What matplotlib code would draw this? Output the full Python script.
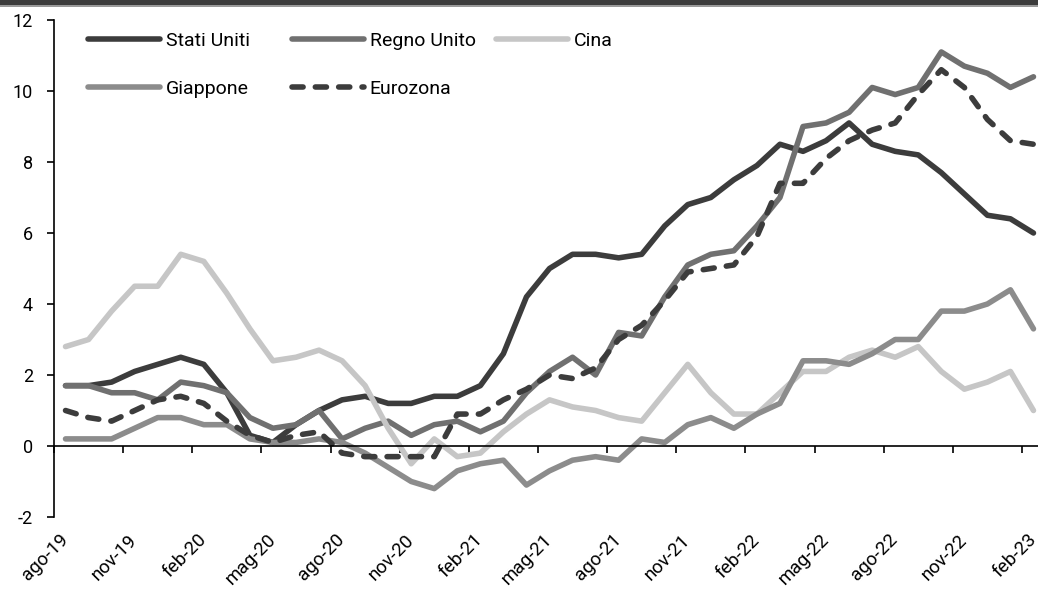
import numpy as np
import matplotlib.pyplot as plt
from matplotlib.patches import Rectangle
from matplotlib.transforms import ScaledTranslation

plt.rcParams['font.family'] = ['Roboto', 'DejaVu Sans']
plt.rcParams['axes.unicode_minus'] = False

mesi = ['ago-19', 'set-19', 'ott-19', 'nov-19', 'dic-19',
        'gen-20', 'feb-20', 'mar-20', 'apr-20', 'mag-20', 'giu-20', 'lug-20',
        'ago-20', 'set-20', 'ott-20', 'nov-20', 'dic-20',
        'gen-21', 'feb-21', 'mar-21', 'apr-21', 'mag-21', 'giu-21', 'lug-21',
        'ago-21', 'set-21', 'ott-21', 'nov-21', 'dic-21',
        'gen-22', 'feb-22', 'mar-22', 'apr-22', 'mag-22', 'giu-22', 'lug-22',
        'ago-22', 'set-22', 'ott-22', 'nov-22', 'dic-22',
        'gen-23', 'feb-23']

stati_uniti = [1.7, 1.7, 1.8, 2.1, 2.3, 2.5, 2.3, 1.5, 0.3, 0.1, 0.6, 1.0,
               1.3, 1.4, 1.2, 1.2, 1.4, 1.4, 1.7, 2.6, 4.2, 5.0, 5.4, 5.4,
               5.3, 5.4, 6.2, 6.8, 7.0, 7.5, 7.9, 8.5, 8.3, 8.6, 9.1, 8.5,
               8.3, 8.2, 7.7, 7.1, 6.5, 6.4, 6.0]
regno_unito = [1.7, 1.7, 1.5, 1.5, 1.3, 1.8, 1.7, 1.5, 0.8, 0.5, 0.6, 1.0,
               0.2, 0.5, 0.7, 0.3, 0.6, 0.7, 0.4, 0.7, 1.5, 2.1, 2.5, 2.0,
               3.2, 3.1, 4.2, 5.1, 5.4, 5.5, 6.2, 7.0, 9.0, 9.1, 9.4, 10.1,
               9.9, 10.1, 11.1, 10.7, 10.5, 10.1, 10.4]
cina = [2.8, 3.0, 3.8, 4.5, 4.5, 5.4, 5.2, 4.3, 3.3, 2.4, 2.5, 2.7,
        2.4, 1.7, 0.5, -0.5, 0.2, -0.3, -0.2, 0.4, 0.9, 1.3, 1.1, 1.0,
        0.8, 0.7, 1.5, 2.3, 1.5, 0.9, 0.9, 1.5, 2.1, 2.1, 2.5, 2.7,
        2.5, 2.8, 2.1, 1.6, 1.8, 2.1, 1.0]
giappone = [0.2, 0.2, 0.2, 0.5, 0.8, 0.8, 0.6, 0.6, 0.2, 0.1, 0.1, 0.2,
            0.1, -0.2, -0.6, -1.0, -1.2, -0.7, -0.5, -0.4, -1.1, -0.7, -0.4, -0.3,
            -0.4, 0.2, 0.1, 0.6, 0.8, 0.5, 0.9, 1.2, 2.4, 2.4, 2.3, 2.6,
            3.0, 3.0, 3.8, 3.8, 4.0, 4.4, 3.3]
eurozona = [1.0, 0.8, 0.7, 1.0, 1.3, 1.4, 1.2, 0.7, 0.3, 0.1, 0.3, 0.4,
            -0.2, -0.3, -0.3, -0.3, -0.3, 0.9, 0.9, 1.3, 1.6, 2.0, 1.9, 2.2,
            3.0, 3.4, 4.1, 4.9, 5.0, 5.1, 5.9, 7.4, 7.4, 8.1, 8.6, 8.9,
            9.1, 9.9, 10.6, 10.1, 9.2, 8.6, 8.5]

x = np.arange(len(mesi))

fig = plt.figure(figsize=(10.38, 5.90), dpi=100)
ax = fig.add_axes([54 / 1038, 73 / 590, 991 / 1038, 497 / 590])

lw = 4
l1, = ax.plot(x, stati_uniti, color='#3c3c3c', lw=lw, solid_capstyle='round', label='Stati Uniti')
l2, = ax.plot(x, regno_unito, color='#707070', lw=lw, solid_capstyle='round', label='Regno Unito')
l3, = ax.plot(x, cina, color='#c6c6c6', lw=lw, solid_capstyle='round', label='Cina')
l4, = ax.plot(x, giappone, color='#8c8c8c', lw=lw, solid_capstyle='round', label='Giappone')
l5, = ax.plot(x, eurozona, color='#3c3c3c', lw=lw, dashes=(2.0, 2.2), dash_capstyle='round',
              label='Eurozona')

ax.set_xlim(-0.5, len(mesi) - 0.5)
ax.set_ylim(-2, 12)
ax.set_yticks(range(-2, 13, 2))

ax.spines['top'].set_visible(False)
ax.spines['right'].set_visible(False)
ax.spines['bottom'].set_position(('data', 0))
ax.spines['left'].set_linewidth(1.2)
ax.spines['bottom'].set_linewidth(1.2)

# tick marks between categories, labels centred on every third month
ax.set_xticks(np.arange(-0.5, len(mesi), 3))
ax.set_xticklabels([])
ax.set_xticks(x[::3], minor=True)
ax.set_xticklabels(mesi[::3], minor=True, rotation=45, ha='right', rotation_mode='anchor')
ax.tick_params(axis='x', which='major', direction='out', length=5, width=1.2)
ax.tick_params(axis='x', which='minor', length=0, pad=61, labelsize=13.5)
ax.tick_params(axis='y', direction='out', length=5, width=1.2, pad=10, labelsize=13)
shift = ScaledTranslation(-0.065, 0, fig.dpi_scale_trans)
for lbl in ax.get_xticklabels(minor=True):
    lbl.set_transform(lbl.get_transform() + shift)

# legend, one block per column
cols = [([l1, l4], 88), ([l2, l5], 292), ([l3], 496)]
for handles, px in cols:
    leg = fig.legend(handles=handles, loc='upper left',
                     bbox_to_anchor=(px / 1038, 1 - 32 / 590),
                     frameon=False, fontsize=14, handlelength=3.7,
                     handletextpad=0.3, labelspacing=1.55, borderpad=0,
                     borderaxespad=0)

# dark band at the top
fig.patches.append(Rectangle((0, 1 - 6 / 590), 1, 6 / 590, transform=fig.transFigure,
                             facecolor='#3c3c3c', edgecolor='none'))
fig.patches.append(Rectangle((0, 1 - 7 / 590), 1, 1.5 / 590, transform=fig.transFigure,
                             facecolor='#9a9a9a', edgecolor='none'))

plt.savefig('out.png', dpi=100)
